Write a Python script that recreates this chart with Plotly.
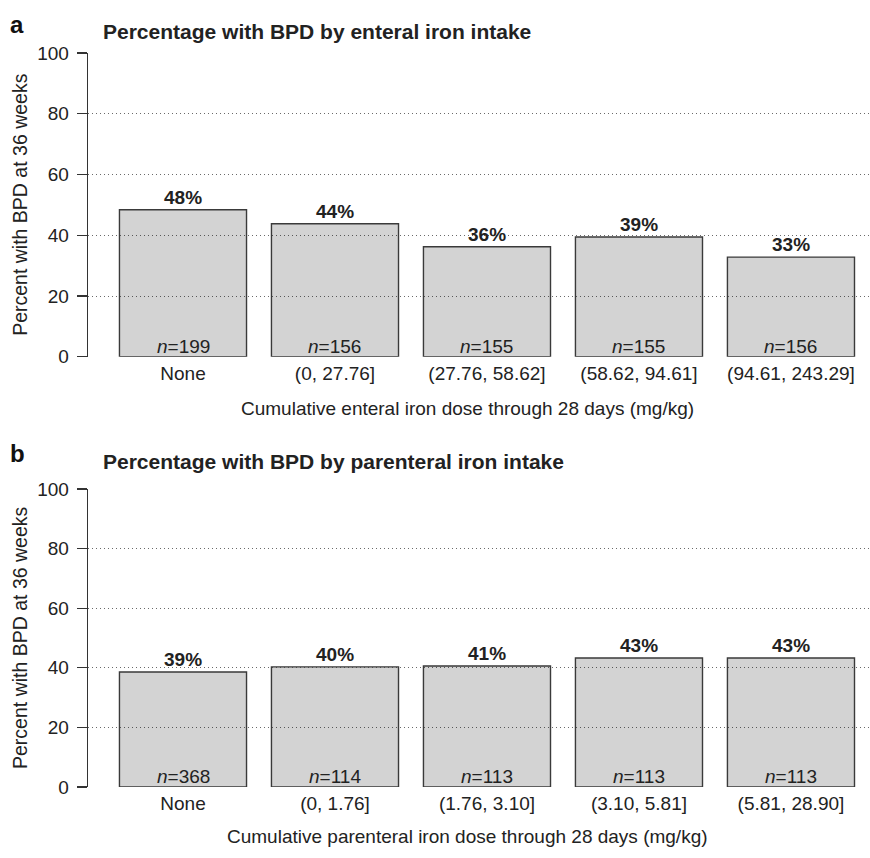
import plotly.graph_objects as go

# ---- data ----
enteral_cats = ["None", "(0, 27.76]", "(27.76, 58.62]", "(58.62, 94.61]", "(94.61, 243.29]"]
enteral_pct = [48.4, 43.8, 36.2, 39.4, 32.8]
enteral_labels = ["48%", "44%", "36%", "39%", "33%"]
enteral_n = [199, 156, 155, 155, 156]

parenteral_cats = ["None", "(0, 1.76]", "(1.76, 3.10]", "(3.10, 5.81]", "(5.81, 28.90]"]
parenteral_pct = [38.6, 40.3, 40.6, 43.3, 43.3]
parenteral_labels = ["39%", "40%", "41%", "43%", "43%"]
parenteral_n = [368, 114, 113, 113, 113]

y_ticks = [0, 20, 40, 60, 80, 100]

FONT = "Liberation Sans, Arial, Helvetica, sans-serif"
TXT = "#222222"
W, H = 870, 858

fig = go.Figure()

panels = [
    dict(cats=enteral_cats, pct=enteral_pct, labels=enteral_labels, n=enteral_n,
         xa="x", ya="y", ydom=[(H - 355.5) / H, (H - 44) / H],
         letter="a", title="Percentage with BPD by enteral iron intake",
         xtitle="Cumulative enteral iron dose through 28 days (mg/kg)",
         letter_y=15, title_y=22, xtitle_y=408),
    dict(cats=parenteral_cats, pct=parenteral_pct, labels=parenteral_labels, n=parenteral_n,
         xa="x2", ya="y2", ydom=[(H - 796.5) / H, (H - 491) / H],
         letter="b", title="Percentage with BPD by parenteral iron intake",
         xtitle="Cumulative parenteral iron dose through 28 days (mg/kg)",
         letter_y=455, title_y=463, xtitle_y=847),
]

annotations = []
for k, p in enumerate(panels):
    xs = list(range(len(p["cats"])))
    fig.add_trace(go.Bar(
        x=xs, y=p["pct"], xaxis=p["xa"], yaxis=p["ya"], width=0.836,
        marker=dict(color="rgba(0,0,0,0.173)", line=dict(color="#3a3a3a", width=1.4)),
        showlegend=False, hoverinfo="skip",
    ))
    for i, (v, lab, n) in enumerate(zip(p["pct"], p["labels"], p["n"])):
        annotations.append(dict(x=i, y=v, xref=p["xa"], yref=p["ya"], text="<b>%s</b>" % lab,
                                showarrow=False, yanchor="bottom", yshift=0,
                                font=dict(family=FONT, size=19, color=TXT)))
        annotations.append(dict(x=i, y=0, xref=p["xa"], yref=p["ya"], text="<i>n</i>=%d" % n,
                                showarrow=False, yanchor="bottom", yshift=-2,
                                font=dict(family=FONT, size=19, color=TXT)))
    annotations.append(dict(x=8 / W, y=1 - p["letter_y"] / H, xref="paper", yref="paper",
                            text="<b>%s</b>" % p["letter"], showarrow=False,
                            xanchor="left", yanchor="middle",
                            font=dict(family=FONT, size=24, color="#111")))
    annotations.append(dict(x=101 / W, y=1 - p["title_y"] / H, xref="paper", yref="paper",
                            text="<b>%s</b>" % p["title"], showarrow=False,
                            xanchor="left", yanchor="middle",
                            font=dict(family=FONT, size=21, color=TXT)))
    annotations.append(dict(x=467 / W, y=1 - p["xtitle_y"] / H, xref="paper", yref="paper",
                            text=p["xtitle"], showarrow=False,
                            xanchor="center", yanchor="middle",
                            font=dict(family=FONT, size=19, color=TXT)))
    annotations.append(dict(x=20 / W, y=sum(p["ydom"]) / 2, xref="paper", yref="paper",
                            text="Percent with BPD at 36 weeks", showarrow=False, textangle=-90,
                            xanchor="center", yanchor="middle",
                            font=dict(family=FONT, size=19.5, color=TXT)))

    xkey = "xaxis" if k == 0 else "xaxis2"
    ykey = "yaxis" if k == 0 else "yaxis2"
    fig.layout[xkey] = dict(domain=[88 / W, 1.0], range=[-0.625, 4.52], anchor=p["ya"],
                            tickmode="array", tickvals=xs, ticktext=p["cats"],
                            showgrid=False, zeroline=False, showline=False, ticks="",
                            ticklabelstandoff=3,
                            tickfont=dict(family=FONT, size=19, color=TXT), fixedrange=True)
    fig.layout[ykey] = dict(domain=p["ydom"], range=[0, 100], anchor=p["xa"],
                            tickmode="array", tickvals=y_ticks,
                            showgrid=True, gridcolor="#6a6a6a", griddash="1px,3px", gridwidth=1,
                            zeroline=True, zerolinecolor="rgba(0,0,0,0)",
                            showline=True, linecolor="#333", linewidth=1.3,
                            ticks="outside", ticklen=10, tickcolor="#333", tickwidth=1.3,
                            ticklabelstandoff=4,
                            tickfont=dict(family=FONT, size=19, color=TXT), fixedrange=True)

fig.update_layout(
    width=W, height=H, margin=dict(l=0, r=0, t=0, b=0),
    paper_bgcolor="white", plot_bgcolor="white",
    annotations=annotations, bargap=0,
)

fig.write_html("out.html", config={"displayModeBar": False, "staticPlot": True},
               post_script="document.body.style.margin='0';document.body.style.overflow='hidden';")
